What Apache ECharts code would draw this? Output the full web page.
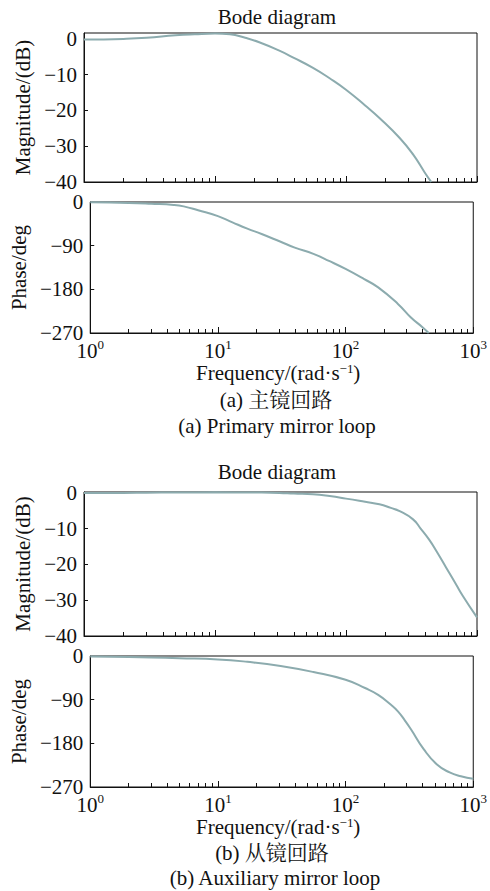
<!DOCTYPE html>
<html><head><meta charset="utf-8">
<script src="https://cdn.jsdelivr.net/npm/echarts@6/dist/echarts.min.js"></script>
<style>html,body{margin:0;padding:0;background:#fff}#c{width:490px;height:891px}</style>
</head><body><div id="c"></div>
<script>
const freqMagA = [1,2,3,5,7,10,13,17,22,31,40,56,75,100,140,180,257,325,400,448];
const magA = [-0.2,0.0,0.3,1.0,1.3,1.5,1.3,0.3,-1.0,-3.3,-5.3,-8.1,-11.0,-14.2,-18.6,-22.1,-27.7,-32.3,-37.4,-40.0];
const freqPhaseA = [1,2,3,4.5,5.4,7,10,13,17,22,31,40,56,75,100,140,180,257,325,400,448];
const phaseA = [-0.5,-2,-3.7,-6,-9,-17,-29,-42,-55,-66,-82,-94,-107,-122,-138,-159,-176,-210,-238,-258,-270];
const freqMagB = [1,2,3,5,10,20,31,40,56,75,100,140,180,220,257,325,370,430,500,582,700,780,1000];
const magB = [0,0,0.05,0.1,0.15,0.1,0,-0.2,-0.4,-0.9,-1.6,-2.5,-3.2,-4.2,-5.1,-7.4,-9.9,-13,-16.8,-20.9,-25.9,-28.8,-34.8];
const freqPhaseB = [1,2,3,5,10,17,31,56,100,142,180,228,257,290,325,409,517,653,800,1000];
const phaseB = [-1,-2,-3,-4.5,-7,-12,-20.6,-33,-49,-66,-80,-101,-114,-132,-151,-192,-223,-240,-248,-253];
const freqTicks = [1,10,100,1000];
const freqMinorTicks = [2,3,4,5,6,7,8,9,20,30,40,50,60,70,80,90,200,300,400,500,600,700,800,900];
const magTicks = [-40,-30,-20,-10,0];
const phaseTicks = [-270,-180,-90,0];

const FF = "'Liberation Serif', Tinos, 'Times New Roman', serif";
const FFC = "'Liberation Serif', 'Noto Serif CJK SC', 'Noto Sans CJK SC', serif";
const INK = '#111';
const LINE = '#8cabae';

const pairs = (xs, ys) => xs.map((x, i) => [x, ys[i]]);
const fmtY = v => (v < 0 ? '\u2212' + Math.abs(v) : String(v));

const panels = [
  {top: 33,  height: 149, min: -40,  max: 1.65, ticks: magTicks,   name: 'Magnitude/(dB)', yGap: 42, data: pairs(freqMagA, magA),   phase: false},
  {top: 202, height: 131, min: -270, max: 0,    ticks: phaseTicks, name: 'Phase/deg',      yGap: 46, data: pairs(freqPhaseA, phaseA), phase: true, nameGap: 27},
  {top: 492, height: 144, min: -40,  max: 0.25, ticks: magTicks,   name: 'Magnitude/(dB)', yGap: 42, data: pairs(freqMagB, magB),   phase: false},
  {top: 656, height: 131, min: -270, max: 0,    ticks: phaseTicks, name: 'Phase/deg',      yGap: 46, data: pairs(freqPhaseB, phaseB), phase: true, nameGap: 25}
];

const grid = panels.map(p => ({left: 84, width: 393, top: p.top, height: p.height,
  show: true, borderColor: INK, borderWidth: 1, backgroundColor: 'transparent'}));

const xAxis = [];
panels.forEach((p, i) => {
  xAxis.push({
    type: 'log', logBase: 10, min: 1, max: 1000, gridIndex: i, position: 'bottom',
    axisLine: {show: true, onZero: false, lineStyle: {color: INK, width: 1}},
    axisTick: {show: true, inside: true, length: 6, lineStyle: {color: INK, width: 1}},
    minorTick: {show: false}, splitLine: {show: false}, minorSplitLine: {show: false},
    axisLabel: p.phase ? {
      show: true, margin: 4.5, color: INK,
      formatter: v => '{b|10}{s|' + Math.round(Math.log10(v)) + '}',
      rich: {
        b: {fontFamily: FF, fontSize: 21, color: INK, lineHeight: 26},
        s: {fontFamily: FF, fontSize: 13, color: INK, lineHeight: 12, verticalAlign: 'top'}
      }
    } : {show: false},
    name: p.phase ? '{n|Frequency/(rad\u00b7s}{s|\u22121}{n|)}' : '',
    nameLocation: 'middle', nameGap: p.nameGap || 20,
    nameTextStyle: {padding: [0, 7, 0, 0], rich: {
      n: {fontFamily: FF, fontSize: 21, color: INK, lineHeight: 22},
      s: {fontFamily: FF, fontSize: 13, color: INK, lineHeight: 13, verticalAlign: 'top'}
    }}
  });
});
// minor ticks: a plain value axis spanning the same decades (exponents 0..3)
panels.forEach((p, i) => {
  xAxis.push({
    type: 'value', min: 0, max: 3, gridIndex: i, position: 'bottom',
    axisLine: {show: false, onZero: false},
    axisTick: {show: true, inside: true, length: 4, customValues: freqMinorTicks.map(f => Math.log10(f)),
      lineStyle: {color: INK, width: 1}},
    axisLabel: {show: false}, splitLine: {show: false}
  });
});

const yAxis = panels.map((p, i) => ({
  type: 'value', gridIndex: i, min: p.min, max: p.max,
  axisLine: {show: true, onZero: false, lineStyle: {color: INK, width: 1}},
  axisTick: {show: true, inside: true, length: 4, customValues: p.ticks, lineStyle: {color: INK}},
  axisLabel: {show: true, customValues: p.ticks, margin: 7, formatter: fmtY,
    fontFamily: FF, fontSize: 21, color: INK},
  splitLine: {show: false},
  name: p.name, nameLocation: 'middle', nameGap: p.yGap,
  nameTextStyle: {fontFamily: FF, fontSize: 21, color: INK}
}));

const series = panels.map((p, i) => ({
  type: 'line', xAxisIndex: i, yAxisIndex: i, data: p.data,
  showSymbol: false, smooth: 0.5, clip: true,
  lineStyle: {color: LINE, width: 2}
}));

const txt = (text, x, y, fam) => ({type: 'text', x: x, y: y,
  style: {text: text, fontFamily: fam || FF, fontSize: 21, fill: INK, align: 'center', verticalAlign: 'middle'}});

const chart = echarts.init(document.getElementById('c'), null, {renderer: 'svg'});
chart.setOption({
  animation: false,
  textStyle: {fontFamily: FF},
  grid, xAxis, yAxis, series,
  graphic: [
    txt('Bode diagram', 277, 16.6),
    txt('(a) 主镜回路', 276, 400, FFC),
    txt('(a) Primary mirror loop', 277, 426),
    txt('Bode diagram', 277, 471.6),
    txt('(b) 从镜回路', 272, 853, FFC),
    txt('(b) Auxiliary mirror loop', 275, 878)
  ]
});
</script></body></html>
